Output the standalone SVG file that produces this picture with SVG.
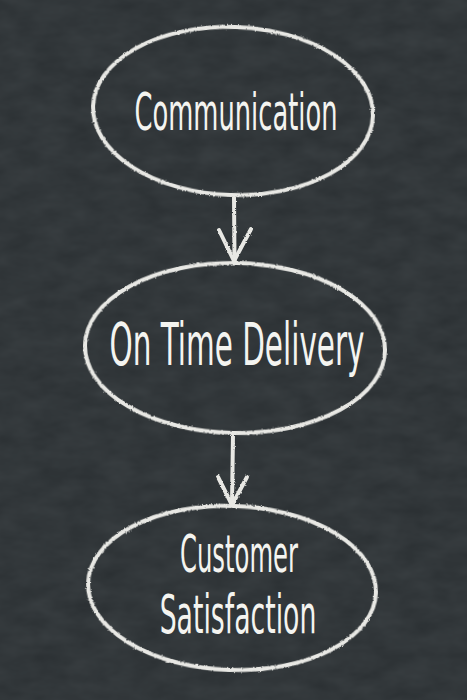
<svg xmlns="http://www.w3.org/2000/svg" width="467" height="700" viewBox="0 0 467 700">
<defs>
<filter id="chalk" filterUnits="userSpaceOnUse" x="0" y="0" width="467" height="700">
<feTurbulence type="fractalNoise" baseFrequency="0.9" numOctaves="2" seed="3" result="n"/>
<feDisplacementMap in="SourceGraphic" in2="n" scale="2.5" xChannelSelector="R" yChannelSelector="G"/>
</filter>
<filter id="board" filterUnits="userSpaceOnUse" x="0" y="0" width="467" height="700">
<feTurbulence type="fractalNoise" baseFrequency="0.03 0.06" numOctaves="3" seed="7" result="t"/>
<feColorMatrix in="t" type="matrix" values="0 0 0 0 0.22  0 0 0 0 0.25  0 0 0 0 0.26  0 0 0 0.18 0"/>
</filter>
</defs>
<style>
.node ellipse{fill:none;stroke:#e8e8e4;stroke-width:4;filter:url(#chalk)}
.edge{fill:none;stroke:#e8e8e4;stroke-width:4;stroke-linecap:round;stroke-linejoin:round;filter:url(#chalk)}
.lbl{font-family:"DejaVu Sans Condensed","Liberation Sans Narrow","Liberation Sans",sans-serif;fill:#f4f4f0;text-anchor:middle}
</style>
<rect width="467" height="700" fill="#2a2f32"/>
<rect width="467" height="700" filter="url(#board)"/>
<g id="connectors">
<path class="edge" d="M234 196 L234.5 260"/>
<path class="edge" d="M219 230 L234 261 L251 229"/>
<path class="edge" d="M233 434 L232 504"/>
<path class="edge" d="M218 477 L232 505 L247 477"/>
</g>
<g id="communication" class="node">
<ellipse cx="233" cy="111" rx="140" ry="84" transform="rotate(2 233 111)"/>
<text class="lbl" transform="translate(236 130) scale(0.55 1)" x="0" y="0" font-size="52" textLength="369" lengthAdjust="spacingAndGlyphs">Communication</text>
</g>
<g id="on-time-delivery" class="node">
<ellipse cx="235" cy="348" rx="150" ry="85" transform="rotate(1 235 348)"/>
<text class="lbl" transform="translate(237 365) scale(0.563 1)" x="0" y="0" font-size="58" textLength="453" lengthAdjust="spacingAndGlyphs">On Time Delivery</text>
</g>
<g id="customer-satisfaction" class="node">
<ellipse cx="232" cy="588" rx="144" ry="82" transform="rotate(2 232 588)"/>
<text class="lbl" transform="translate(239 572) scale(0.52 1)" x="0" y="0" font-size="52" textLength="227" lengthAdjust="spacingAndGlyphs">Customer</text>
<text class="lbl" transform="translate(238 633) scale(0.55 1)" x="0" y="0" font-size="54" textLength="285" lengthAdjust="spacingAndGlyphs">Satisfaction</text>
</g>
</svg>
